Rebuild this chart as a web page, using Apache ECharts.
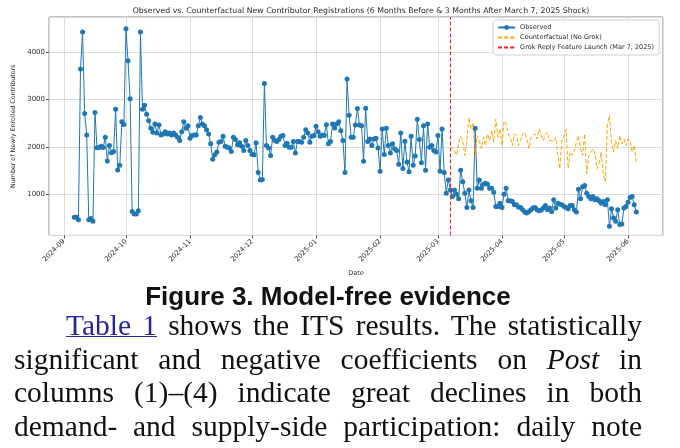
<!DOCTYPE html>
<html>
<head>
<meta charset="utf-8">
<script src="https://cdn.jsdelivr.net/npm/echarts@6/dist/echarts.min.js"></script>
<style>
  html, body { margin: 0; padding: 0; background: #fff; }
  body { width: 680px; height: 448px; position: relative; overflow: hidden; }
  #chart { position: absolute; left: 0; top: 0; width: 680px; height: 282px; }
  .caption { position: absolute; left: 14px; top: 283px; width: 628px; text-align: center;
    font: bold 26px/26px "Liberation Sans", Arial, sans-serif; color: #111; }
  .para { position: absolute; left: 14px; top: 309px; width: 628px;
    font: 29.5px/33.6px "Liberation Serif", "Times New Roman", serif; color: #111; }
  .para div { text-align: justify; text-align-last: justify; white-space: nowrap; }
  .para a { color: #26269c; text-decoration: underline; text-decoration-thickness: 1px; }
</style>
</head>
<body>
<div id="chart"></div>
<div class="caption">Figure 3. Model-free evidence</div>
<div class="para">
  <div style="padding-left:52px"><a>Table 1</a> shows the ITS results. The statistically</div>
  <div>significant and negative coefficients on <i>Post</i> in</div>
  <div>columns (1)–(4) indicate great declines in both</div>
  <div>demand- and supply-side participation: daily note</div>
</div>
<script>
// daily series start on 6 Sep 2024
var startDay = [2024, 8, 6];
var shockDay = [2025, 2, 7];

var observed = [
  503, 505, 450, 3650, 4434, 2706, 2252, 450, 476, 420,
  2727, 1979, 1986, 2014, 1986, 2203, 1700, 2028, 1874, 1902,
  2797, 1510, 1608, 2531, 2475, 4503, 3825, 3021, 629, 573,
  573, 643, 4434, 2797, 2881, 2692, 2552, 2392, 2308, 2483,
  2294, 2462, 2252, 2273, 2322, 2273, 2294, 2252, 2294, 2252,
  2203, 2133, 2322, 2531, 2392, 2448, 2182, 2238, 2252, 2252,
  2448, 2622, 2483, 2448, 2364, 2273, 2063, 1734, 1832, 1888,
  2098, 2112, 2224, 2014, 1993, 1972, 1902, 2203, 2154, 2042,
  2084, 2014, 1923, 2133, 2028, 1923, 1839, 1832, 2084, 1455,
  1294, 1308, 3343, 2028, 1972, 1818, 2203, 2133, 2112, 2154,
  2224, 2238, 2028, 2077, 1993, 1993, 2112, 1867, 2112, 2112,
  2098, 2203, 2364, 2294, 2098, 2224, 2238, 2434, 2322, 2224,
  2252, 2238, 2469, 2063, 2112, 2483, 2399, 2483, 2531, 2343,
  2133, 1455, 3441, 2671, 2203, 2203, 2462, 2811, 2462, 2448,
  1692, 2818, 2112, 2168, 2028, 2168, 2182, 1972, 1480, 2378,
  1839, 2392, 2028, 1867, 2063, 1958, 1923, 1629, 2294, 1538,
  2119, 1678, 1469, 2224, 1608, 1804, 2587, 2154, 1664, 2448,
  1503, 2483, 1993, 2028, 1923, 1888, 2238, 1483, 2378, 1455,
  1014, 1294, 1084, 944, 1084, 993, 895, 1503, 1259, 1014,
  713, 1084, 853, 713, 2392, 1119, 1294, 1119, 1203, 1224,
  1203, 1119, 1119, 1035, 734, 734, 804, 713, 993, 1119,
  853, 853, 839, 769, 769, 720, 713, 664, 615, 594,
  629, 664, 699, 713, 664, 643, 657, 699, 755, 664,
  700, 629, 874, 699, 804, 783, 769, 734, 713, 685,
  755, 755, 664, 615, 1100, 900, 1150, 1180, 1014, 944,
  895, 944, 874, 895, 853, 804, 839, 769, 874, 315,
  685, 490, 420, 664, 350, 364, 699, 734, 825, 923,
  944, 769, 615
];

// counterfactual (no Grok) starts on the shock day
var counterfactual = [
  1943, 1972, 1923, 1818, 2063, 2224, 2112, 1818, 2133, 2622,
  2378, 2517, 1783, 2238, 2133, 1958, 2203, 2028, 2273, 2133,
  2343, 2098, 2587, 2203, 2378, 2028, 2552, 2483, 2273, 2203,
  2028, 2273, 2238, 2028, 2133, 2273, 2308, 2168, 1958, 2203,
  2238, 2273, 2168, 2378, 2238, 2133, 2273, 2308, 2133, 2133,
  2112, 2203, 1818, 1538, 2168, 2238, 2364, 1538, 1888, 1818,
  1923, 2098, 2238, 1958, 1818, 2273, 1434, 1818, 1888, 1958,
  1853, 1538, 1643, 1888, 1399, 1259, 2483, 2657, 2098, 1888,
  2133, 1958, 2238, 2063, 2168, 2028, 2168, 2133, 1888, 2030,
  1680
];

function day(parts, offset) {
  return new Date(parts[0], parts[1], parts[2] + (offset || 0)).getTime();
}

var shockTime = day(shockDay);
var obsData = observed.map(function (v, i) { return [day(startDay, i), v]; });
var cfData = counterfactual.map(function (v, i) { return [day(shockDay, i), v]; });

var font = 'DejaVu Sans';
var textColor = '#2b2b2b';
var blue = '#1f77b4', orange = '#ffa500', red = '#e8202a';

var myChart = echarts.init(document.getElementById('chart'));
var option = {
    animation: false,
    textStyle: { fontFamily: font },
    title: {
        text: 'Observed vs. Counterfactual New Contributor Registrations (6 Months Before & 3 Months After March 7, 2025 Shock)',
        left: 356,
        textAlign: 'center',
        top: 2,
        textStyle: { fontSize: 7.8, fontWeight: 'normal', color: textColor, fontFamily: font }
    },
    legend: {
        orient: 'vertical',
        right: 21,
        top: 20,
        itemWidth: 17,
        itemHeight: 6,
        itemGap: 3,
        padding: [4, 5, 4, 4],
        backgroundColor: '#fff',
        borderColor: '#cfcfcf',
        borderWidth: 1,
        borderRadius: 3,
        textStyle: { fontSize: 6.5, color: textColor, fontFamily: font },
        data: [
            { name: 'Observed' },
            { name: 'Counterfactual (No Grok)', itemStyle: { opacity: 0 } },
            { name: 'Grok Reply Feature Launch (Mar 7, 2025)', itemStyle: { opacity: 0 } }
        ]
    },
    grid: {
        left: 49,
        right: 17,
        top: 17,
        bottom: 44,
        show: true,
        borderColor: '#8a8a8a',
        borderWidth: 1
    },
    xAxis: {
        type: 'time',
        min: new Date(2024, 7, 24, 18).getTime(),
        max: new Date(2025, 5, 17, 22).getTime(),
        splitNumber: 10,
        name: 'Date',
        nameLocation: 'middle',
        nameGap: 34,
        nameTextStyle: { fontSize: 6.5, color: textColor },
        axisLine: { show: false },
        axisTick: { show: true, length: 3, lineStyle: { color: '#555' } },
        splitLine: { show: true, lineStyle: { color: '#dcdcdc', width: 1 } },
        axisLabel: {
            rotate: 45,
            fontSize: 6.8,
            color: textColor,
            margin: 5,
            formatter: function (v) {
                var d = new Date(v);
                var m = d.getMonth() + 1;
                return d.getFullYear() + '-' + (m < 10 ? '0' + m : m);
            }
        }
    },
    yAxis: {
        type: 'value',
        min: 119,
        max: 4755,
        splitNumber: 5,
        name: 'Number of Newly Enrolled Contributors',
        nameLocation: 'middle',
        nameGap: 29,
        nameTextStyle: { fontSize: 6.3, color: textColor },
        axisLine: { show: false },
        axisTick: { show: true, length: 3, lineStyle: { color: '#555' } },
        splitLine: { show: true, lineStyle: { color: '#dcdcdc', width: 1 } },
        axisLabel: {
            fontSize: 7,
            color: textColor,
            margin: 4,
            showMinLabel: false,
            showMaxLabel: false,
            formatter: function (v) { return v % 1000 === 0 ? v : ''; }
        }
    },
    series: [
        {
            name: 'Observed',
            type: 'line',
            data: obsData,
            symbol: 'circle',
            symbolSize: 5,
            showSymbol: true,
            color: blue,
            lineStyle: { width: 1, color: blue },
            itemStyle: { color: blue }
        },
        {
            name: 'Counterfactual (No Grok)',
            type: 'line',
            data: cfData,
            symbol: 'none',
            color: orange,
            lineStyle: { width: 1, type: [4, 2], color: orange }
        },
        {
            name: 'Grok Reply Feature Launch (Mar 7, 2025)',
            type: 'line',
            data: [],
            symbol: 'none',
            color: red,
            lineStyle: { width: 1, type: [4, 2], color: red },
            markLine: {
                silent: true,
                symbol: 'none',
                label: { show: false },
                lineStyle: { color: red, type: [4, 2], width: 1 },
                data: [{ xAxis: shockTime }]
            }
        }
    ]
};
myChart.setOption(option);
</script>
</body>
</html>
